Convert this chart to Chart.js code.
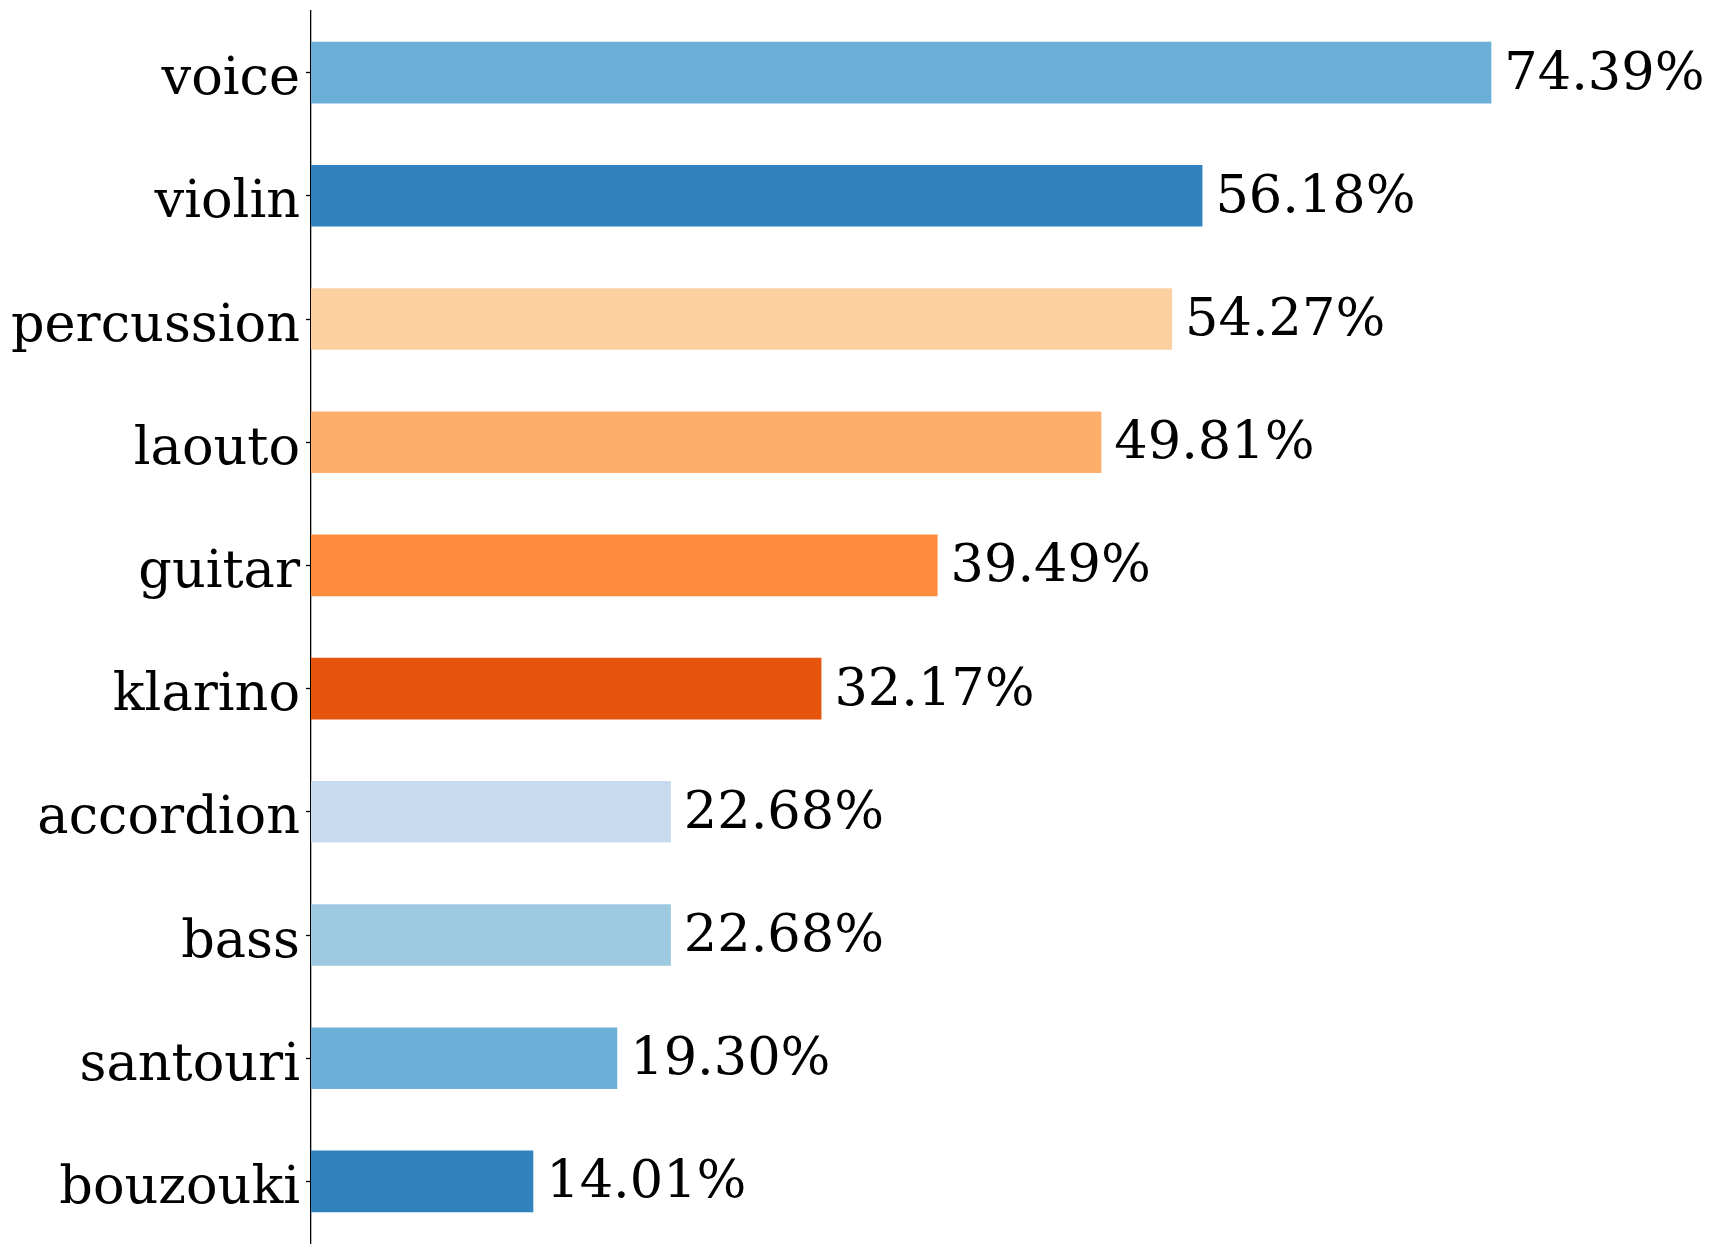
<!DOCTYPE html>
<html>
<head>
<meta charset="utf-8">
<script src="https://cdn.jsdelivr.net/npm/chart.js@4/dist/chart.umd.min.js"></script>
<style>
  html, body { margin: 0; padding: 0; background: #fff; }
  #wrap { width: 1713px; height: 1252px; }
</style>
</head>
<body>
<div id="wrap"><canvas id="chart" width="1713" height="1252"></canvas></div>
<script>
const instruments = ["voice", "violin", "percussion", "laouto", "guitar",
                     "klarino", "accordion", "bass", "santouri", "bouzouki"];
const shares = [74.39, 56.18, 54.27, 49.81, 39.49, 32.17, 22.68, 22.68, 19.30, 14.01];
const barColors = ["#6baed6", "#3182bd", "#fdd0a2", "#fdae6b", "#fd8d3c",
                   "#e6550d", "#c6dbef", "#9ecae1", "#6baed6", "#3182bd"];

const serif = "'DejaVu Serif', serif";

// percentage text at the end of every bar
const valueLabels = {
    id: "valueLabels",
    afterDatasetsDraw(chart) {
        const ctx = chart.ctx;
        const meta = chart.getDatasetMeta(0);
        ctx.save();
        ctx.font = "52.5px " + serif;
        ctx.fillStyle = "#000";
        ctx.textAlign = "left";
        ctx.textBaseline = "alphabetic";
        meta.data.forEach((bar, i) => {
            ctx.fillText(shares[i].toFixed(2) + "%", bar.x + 13, bar.y + 16);
        });
        ctx.restore();
    }
};

new Chart(document.getElementById("chart").getContext("2d"), {
    type: "bar",
    data: {
        labels: instruments,
        datasets: [{
            data: shares,
            backgroundColor: barColors,
            borderWidth: 0,
            categoryPercentage: 1.0,
            barPercentage: 0.5
        }]
    },
    options: {
        indexAxis: "y",
        responsive: false,
        animation: false,
        devicePixelRatio: 1,
        layout: { padding: { left: 0, right: 158, top: 11, bottom: 9 } },
        plugins: {
            legend: { display: false },
            tooltip: { enabled: false }
        },
        scales: {
            x: {
                display: false,
                min: 0,
                max: 78.4
            },
            y: {
                afterFit(scale) {
                    scale.width = 311;
                    scale.paddingTop = 0;
                    scale.paddingBottom = 0;
                },
                border: { display: true, color: "#000", width: 1.3 },
                grid: {
                    offset: false,
                    drawOnChartArea: false,
                    drawTicks: true,
                    tickLength: 5,
                    tickWidth: 1.3,
                    tickColor: "#000"
                },
                ticks: {
                    color: "#000",
                    padding: 6,
                    labelOffset: 8,
                    font: { family: serif, size: 52.5 }
                }
            }
        }
    },
    plugins: [valueLabels]
});
</script>
</body>
</html>
